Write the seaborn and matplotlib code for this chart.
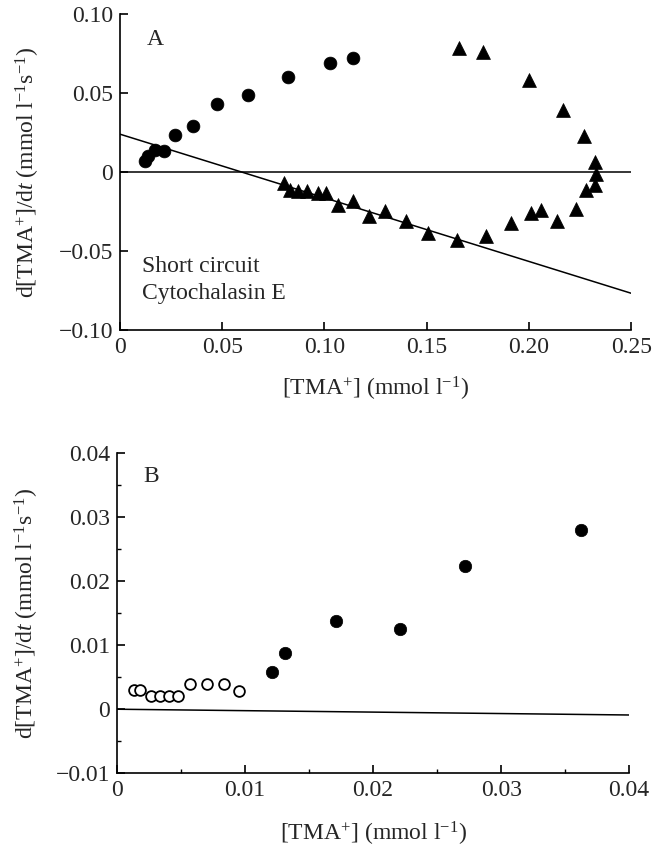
import numpy as np
import pandas as pd
import matplotlib
matplotlib.use("Agg")
import matplotlib.pyplot as plt
import seaborn as sns
from matplotlib.ticker import MultipleLocator, FixedLocator

# ---------------- data ----------------
# Panel A: circles (filled)
a_circ_x = [0.0121, 0.0138, 0.0170, 0.0216, 0.0267, 0.0357, 0.0476, 0.0625, 0.0820, 0.1025, 0.1139]
a_circ_y = [0.0070, 0.0099, 0.0138, 0.0133, 0.0232, 0.0291, 0.0430, 0.0490, 0.0599, 0.0692, 0.0720]
# Panel A: triangles (filled)
a_tri_x = [0.0801, 0.0833, 0.0869, 0.0915, 0.0967, 0.1007, 0.1067, 0.1139, 0.1219, 0.1295,
           0.1398, 0.1508, 0.1648, 0.1788, 0.1910, 0.2011, 0.2060, 0.2139, 0.2230, 0.2280,
           0.2321, 0.2329, 0.2321, 0.2269, 0.2167, 0.1998, 0.1777, 0.1658]
a_tri_y = [-0.0070, -0.0116, -0.0122, -0.0118, -0.0130, -0.0133, -0.0211, -0.0185, -0.0280, -0.0247,
           -0.0310, -0.0384, -0.0428, -0.0407, -0.0320, -0.0259, -0.0242, -0.0310, -0.0234, -0.0116,
           -0.0080, -0.0010, 0.0066, 0.0226, 0.0395, 0.0585, 0.0759, 0.0785]
a_line_x = [0.0, 0.25]
a_line_y = [0.0240, -0.0766]

# Panel B
b_open_x = [0.00135, 0.0018, 0.00266, 0.00336, 0.00409, 0.00474, 0.0057, 0.00705, 0.00838, 0.0095]
b_open_y = [0.0030, 0.0030, 0.0020, 0.0020, 0.0020, 0.0020, 0.0039, 0.0039, 0.0039, 0.0029]
b_fill_x = [0.0121, 0.0131, 0.0171, 0.0221, 0.0272, 0.0362]
b_fill_y = [0.0058, 0.0088, 0.0137, 0.0125, 0.0223, 0.0280]
b_line_x = [0.0, 0.04]
b_line_y = [0.0, -0.0009]

a_xticks = [0, 0.05, 0.10, 0.15, 0.20, 0.25]
a_xticklabels = ["0", "0.05", "0.10", "0.15", "0.20", "0.25"]
a_yticks = [-0.10, -0.05, 0, 0.05, 0.10]
a_yticklabels = ["\u22120.10", "\u22120.05", "0", "0.05", "0.10"]
b_xticks = [0, 0.01, 0.02, 0.03, 0.04]
b_xticklabels = ["0", "0.01", "0.02", "0.03", "0.04"]
b_yticks = [-0.01, 0, 0.01, 0.02, 0.03, 0.04]
b_yticklabels = ["\u22120.01", "0", "0.01", "0.02", "0.03", "0.04"]

# ---------------- style ----------------
sns.set_theme(style="ticks")
plt.rcParams['font.family'] = ['Liberation Serif', 'DejaVu Serif']
plt.rcParams['mathtext.fontset'] = 'custom'
plt.rcParams['mathtext.rm'] = 'Liberation Serif'
plt.rcParams['mathtext.it'] = 'Liberation Serif:italic'
plt.rcParams['axes.linewidth'] = 1.2
plt.rcParams['xtick.direction'] = 'in'
plt.rcParams['ytick.direction'] = 'in'

fig = plt.figure(figsize=(6.63, 8.49), dpi=100)
axA = fig.add_axes([0.181, 0.611, 0.771, 0.3725])
axB = fig.add_axes([0.1765, 0.0891, 0.7725, 0.3777])

ylab = r"d[TMA$^{+}$]/d$\mathit{t}$ (mmol l$^{-1}$s$^{-1}$)"
xlab = r"[TMA$^{+}$] (mmol l$^{-1}$)"
fs = 17

# ----- Panel A -----
axA.axhline(0, color='black', lw=1.1, zorder=1)
sns.lineplot(x=a_line_x, y=a_line_y, ax=axA, color='black', lw=1.1, zorder=1)
sns.scatterplot(x=a_circ_x, y=a_circ_y, ax=axA, marker='o', s=85, color='black',
                edgecolor='black', linewidth=0.5, zorder=3)
sns.scatterplot(x=a_tri_x, y=a_tri_y, ax=axA, marker='^', s=100, color='black',
                edgecolor='black', linewidth=0.5, zorder=3)
axA.set_xlim(0, 0.25)
axA.set_ylim(-0.10, 0.10)
axA.xaxis.set_major_locator(FixedLocator(a_xticks))
axA.set_xticklabels(a_xticklabels)
axA.yaxis.set_major_locator(FixedLocator(a_yticks))
axA.set_yticklabels(a_yticklabels)
axA.text(0.053, 0.902, "A", transform=axA.transAxes, fontsize=fs, va='baseline', ha='left')
axA.text(0.043, 0.1835, "Short circuit", transform=axA.transAxes, fontsize=fs, va='baseline', ha='left')
axA.text(0.043, 0.098, "Cytochalasin E", transform=axA.transAxes, fontsize=fs, va='baseline', ha='left')

# ----- Panel B -----
sns.lineplot(x=b_line_x, y=b_line_y, ax=axB, color='black', lw=1.1, zorder=1)
sns.scatterplot(x=b_open_x, y=b_open_y, ax=axB, marker='o', s=60, facecolor='white',
                edgecolor='black', linewidth=1.3, zorder=3)
sns.scatterplot(x=b_fill_x, y=b_fill_y, ax=axB, marker='o', s=80, color='black',
                edgecolor='black', linewidth=0.5, zorder=3)
axB.set_xlim(0, 0.04)
axB.set_ylim(-0.01, 0.04)
axB.xaxis.set_major_locator(FixedLocator(b_xticks))
axB.set_xticklabels(b_xticklabels)
axB.yaxis.set_major_locator(FixedLocator(b_yticks))
axB.set_yticklabels(b_yticklabels)
axB.xaxis.set_minor_locator(MultipleLocator(0.005))
axB.yaxis.set_minor_locator(MultipleLocator(0.005))
axB.text(0.051, 0.909, "B", transform=axB.transAxes, fontsize=fs, va='baseline', ha='left')

for ax in (axA, axB):
    sns.despine(ax=ax)
    ax.tick_params(axis='both', which='major', labelsize=fs, length=6, width=1.2, color='black', pad=5)
    ax.tick_params(axis='both', which='minor', length=3, width=1.0, color='black')
    ax.set_ylabel(ylab, fontsize=fs)
    ax.set_xlabel(xlab, fontsize=fs)
    for sp in ax.spines.values():
        sp.set_color('black')

axA.yaxis.set_label_coords(-0.153, 0.5)
axA.xaxis.set_label_coords(0.5, -0.14)
axB.yaxis.set_label_coords(-0.148, 0.5)
axB.xaxis.set_label_coords(0.5, -0.145)

fig.savefig("out.png", dpi=100)
